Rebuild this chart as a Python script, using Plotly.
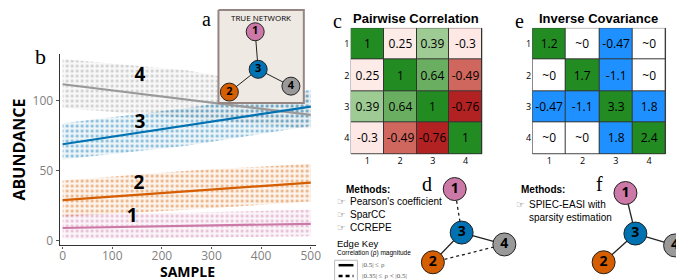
import plotly.graph_objects as go

W, H = 684, 280

# ---------------- Panel b data ----------------
trend_x = [0, 500]
trend_1 = [9, 12]
trend_2 = [29, 41.5]
trend_3 = [69, 96]
trend_4 = [112, 90]

band_x = [0, 250, 500]
band_1_lo, band_1_hi = [1, 2, 3], [19, 20, 22]
band_2_lo, band_2_hi = [17, 22, 28], [43, 50, 55]
band_3_lo, band_3_hi = [58, 68, 82], [84, 95, 108]
band_4_lo, band_4_hi = [95, 88, 80], [130, 122, 106]

series_names = ["1", "2", "3", "4"]
series_colors = ["#cc79a7", "#d55e00", "#0072b2", "#999999"]
label_x = [140, 154, 156, 156]
label_y = [17, 40, 84, 118]

# ---------------- Panel c / e data ----------------
cats = ["1", "2", "3", "4"]
corr = [[1, 0.25, 0.39, -0.3],
        [0.25, 1, 0.64, -0.49],
        [0.39, 0.64, 1, -0.76],
        [-0.3, -0.49, -0.76, 1]]
prec = [[1.2, 0, -0.47, 0],
        [0, 1.7, -1.1, 0],
        [-0.47, -1.1, 3.3, 1.8],
        [0, 0, 1.8, 2.4]]

# ---------------- Networks ----------------
node_names = ["1", "2", "3", "4"]
node_colors = ["#cc79a7", "#d55e00", "#0072b2", "#999999"]
net_a_x = [249, 223, 252, 285]
net_a_y = [24, 85, 62, 79]
net_d_x = [450, 428, 457, 500]
net_d_y = [183, 257, 227, 239]
net_f_x = [622, 600, 632, 672]
net_f_y = [187, 257, 228, 240]
edges_a = [("1", "3", "solid"), ("3", "2", "solid"), ("3", "4", "solid")]
edges_d = [("1", "3", "dot"), ("3", "4", "solid"), ("3", "2", "solid"), ("2", "4", "dot")]
edges_f = [("1", "3", "solid"), ("3", "4", "solid"), ("3", "2", "solid")]

HAND = "Open Sans"
SANS = "Liberation Sans, Arial"
SERIF = "Liberation Serif, DejaVu Serif, serif"

fig = go.Figure()

bands = [(band_1_lo, band_1_hi), (band_2_lo, band_2_hi), (band_3_lo, band_3_hi), (band_4_lo, band_4_hi)]
trends = [trend_1, trend_2, trend_3, trend_4]


def rgba(hexc, a):
    h = hexc.lstrip("#")
    return "rgba(%d,%d,%d,%s)" % (int(h[0:2], 16), int(h[2:4], 16), int(h[4:6], 16), a)


for i in [3, 2, 1, 0]:
    lo, hi = bands[i]
    c = series_colors[i]
    fig.add_trace(go.Scatter(
        x=band_x + band_x[::-1], y=hi + lo[::-1], mode="lines", fill="toself",
        line=dict(width=0), fillcolor=rgba(c, 0.07),
        fillpattern=dict(shape=".", fgcolor=c, fgopacity=0.45, size=5, solidity=0.3),
        hoverinfo="skip", showlegend=False, xaxis="x", yaxis="y"))
for i in [3, 2, 1, 0]:
    fig.add_trace(go.Scatter(x=trend_x, y=trends[i], mode="lines",
                             line=dict(color=series_colors[i], width=2.2),
                             showlegend=False, xaxis="x", yaxis="y"))
fig.add_trace(go.Scatter(x=label_x, y=label_y, mode="text", text=series_names,
                         textfont=dict(family=HAND, size=19, color="black", weight="bold"),
                         showlegend=False, xaxis="x", yaxis="y"))

# ---- panel c heatmap ----
cscale = [[0.0, "#b22222"], [0.12, "#b22222"], [0.255, "#d0675e"], [0.35, "#fde8e5"],
          [0.625, "#fdebe8"], [0.695, "#9dcb93"], [0.82, "#6aae62"], [1.0, "#228b22"]]
fig.add_trace(go.Heatmap(z=corr, x=cats, y=cats, zmin=-1, zmax=1, colorscale=cscale,
                         showscale=False, xgap=1, ygap=1,
                         text=[[f"{v:g}" for v in row] for row in corr], texttemplate="%{text}",
                         textfont=dict(family=HAND, size=12, color="black"),
                         xaxis="x2", yaxis="y2"))

# ---- panel e heatmap ----
ptype = [[2 if i == j else (1 if abs(v) > 1e-9 else 0) for j, v in enumerate(row)] for i, row in enumerate(prec)]
ptext = [[("~0" if abs(v) < 1e-9 else f"{v:g}") for v in row] for row in prec]
fig.add_trace(go.Heatmap(z=ptype, x=cats, y=cats, zmin=0, zmax=2,
                         colorscale=[[0, "#ffffff"], [0.33, "#ffffff"], [0.34, "#1e90ff"], [0.66, "#1e90ff"],
                                     [0.67, "#228b22"], [1, "#228b22"]],
                         showscale=False, xgap=1, ygap=1, text=ptext, texttemplate="%{text}",
                         textfont=dict(family=HAND, size=12, color="black"),
                         xaxis="x4", yaxis="y4"))


def ov(**kw):
    kw.setdefault("showlegend", False)
    kw.setdefault("hoverinfo", "skip")
    return go.Scatter(xaxis="x3", yaxis="y3", **kw)


# panel a box
fig.add_trace(ov(x=[212, 298, 298, 212, 212], y=[2, 2, 96, 96, 2], mode="lines", fill="toself",
                 fillcolor="#efe9e4", line=dict(color="#958683", width=2)))


def network(xs, ys, edges, size, fsize, ew):
    pos = {n: (xs[k], ys[k]) for k, n in enumerate(node_names)}
    for a, b, d in edges:
        fig.add_trace(ov(x=[pos[a][0], pos[b][0]], y=[pos[a][1], pos[b][1]], mode="lines",
                         line=dict(color="#222", width=ew, dash=d)))
    fig.add_trace(ov(x=xs, y=ys, mode="markers+text", text=node_names,
                     marker=dict(size=size, color=node_colors, line=dict(color="#222", width=1)),
                     textfont=dict(family=HAND, size=fsize, color="black", weight="bold"),
                     textposition="middle center"))


network(net_a_x, net_a_y, edges_a, 18, 11, 1)
network(net_d_x, net_d_y, edges_d, 23, 14, 1.3)
network(net_f_x, net_f_y, edges_f, 23, 14, 1.3)

# edge key icons
fig.add_trace(ov(x=[329, 352, 352, 329, 329], y=[255, 255, 276, 276, 255], mode="lines",
                 line=dict(color="#bbb", width=1)))
fig.add_trace(ov(x=[333, 348], y=[260, 260], mode="lines", line=dict(color="black", width=2.5)))
fig.add_trace(ov(x=[333, 348], y=[271, 271], mode="lines", line=dict(color="black", width=2.5, dash="4px,3px")))

ann = []


def txt(x, y, s, size, family=SANS, color="black", anchor="left", weight="normal", **kw):
    ann.append(dict(x=x, y=y, xref="x3", yref="y3", text=s, showarrow=False, xanchor=anchor,
                    yanchor="middle", font=dict(family=family, size=size, color=color, weight=weight), **kw))


txt(200, 11, "a", 20, SERIF, anchor="center")
txt(33, 49, "b", 22, SERIF, anchor="center")
txt(332, 13, "c", 20, SERIF, anchor="center")
txt(422, 178, "d", 20, SERIF, anchor="center")
txt(515, 13, "e", 20, SERIF, anchor="center")
txt(596, 178, "f", 20, SERIF, anchor="center")
txt(255, 10, "TRUE NETWORK", 8, HAND, anchor="center")
txt(411, 11, "Pairwise Correlation", 13, SANS, anchor="center", weight="bold")
txt(595, 11, "Inverse Covariance", 13, SANS, anchor="center", weight="bold")
txt(181, 266, "SAMPLE", 14, HAND, anchor="center", weight="bold")

txt(338, 183, "Methods:", 10, SANS, weight="bold")
for k, s in enumerate(["Pearson's coefficient", "SparCC", "CCREPE"]):
    txt(336, 196 + 13 * k, "☞", 10, "DejaVu Sans", color="#888", anchor="center")
    txt(343, 196 + 13 * k, s, 10, SANS)
txt(515, 183, "Methods:", 10, SANS, weight="bold")
txt(516, 199, "☞", 10, "DejaVu Sans", color="#888", anchor="center")
txt(523, 199, "SPIEC-EASI with", 10, SANS)
txt(523, 212, "sparsity estimation", 10, SANS)

txt(329, 238, "Edge Key", 9.5, SANS)
txt(329, 248, "Correlation (ρ) magnitude", 6.5, SANS)
txt(355, 260, "|0.5| ≤ ρ", 7, SERIF, color="#555")
txt(355, 271, "|0.35| ≤ ρ < |0.5|", 7, SERIF, color="#555")

fig.update_layout(annotations=ann)

shapes = []
for xa, ya in [("x2", "y2"), ("x4", "y4")]:
    shapes.append(dict(type="rect", xref=xa, yref=ya, x0=-0.5, x1=3.5, y0=-0.5, y1=3.5,
                       fillcolor="#333", line=dict(color="#333", width=1), layer="below"))
fig.update_layout(shapes=shapes)


def px_x(a, b):
    return [a / W, b / W]


def px_y(top, bot):
    return [1 - bot / H, 1 - top / H]


tickfont_b = dict(family=HAND, size=12, color="#7f7f7f")
fig.update_layout(
    width=W, height=H, margin=dict(l=0, r=0, t=0, b=0),
    paper_bgcolor="white", plot_bgcolor="rgba(0,0,0,0)",
    xaxis=dict(domain=px_x(52, 310), range=[-6, 510], showgrid=False, zeroline=False,
               showline=True, linecolor="#333", linewidth=1.2, ticks="outside", ticklen=2,
               tickcolor="#555", tickvals=[0, 100, 200, 300, 400, 500], tickfont=tickfont_b,
               ticklabelstandoff=-3),
    yaxis=dict(domain=px_y(46, 240), range=[-3.5, 134], showgrid=False, zeroline=False,
               showline=True, linecolor="#333", linewidth=1.2, ticks="outside", ticklen=3,
               tickcolor="#555", tickvals=[0, 50, 100], tickfont=tickfont_b,
               title=dict(text="ABUNDANCE", font=dict(family=HAND, size=16, color="black", weight="bold"), standoff=4)),
    xaxis2=dict(domain=px_x(345, 478), showgrid=False, zeroline=False, ticks="",
                tickfont=dict(family=HAND, size=9, color="black"), anchor="y2"),
    yaxis2=dict(domain=px_y(20, 148), showgrid=False, zeroline=False, ticks="", autorange="reversed",
                tickfont=dict(family=HAND, size=9, color="black"), anchor="x2"),
    xaxis4=dict(domain=px_x(528, 663), showgrid=False, zeroline=False, ticks="",
                tickfont=dict(family=HAND, size=9, color="black"), anchor="y4"),
    yaxis4=dict(domain=px_y(20, 148), showgrid=False, zeroline=False, ticks="", autorange="reversed",
                tickfont=dict(family=HAND, size=9, color="black"), anchor="x4"),
    xaxis3=dict(domain=[0, 1], range=[0, W], visible=False, anchor="y3"),
    yaxis3=dict(domain=[0, 1], range=[H, 0], visible=False, anchor="x3"),
)

fig.write_html("out.html")
